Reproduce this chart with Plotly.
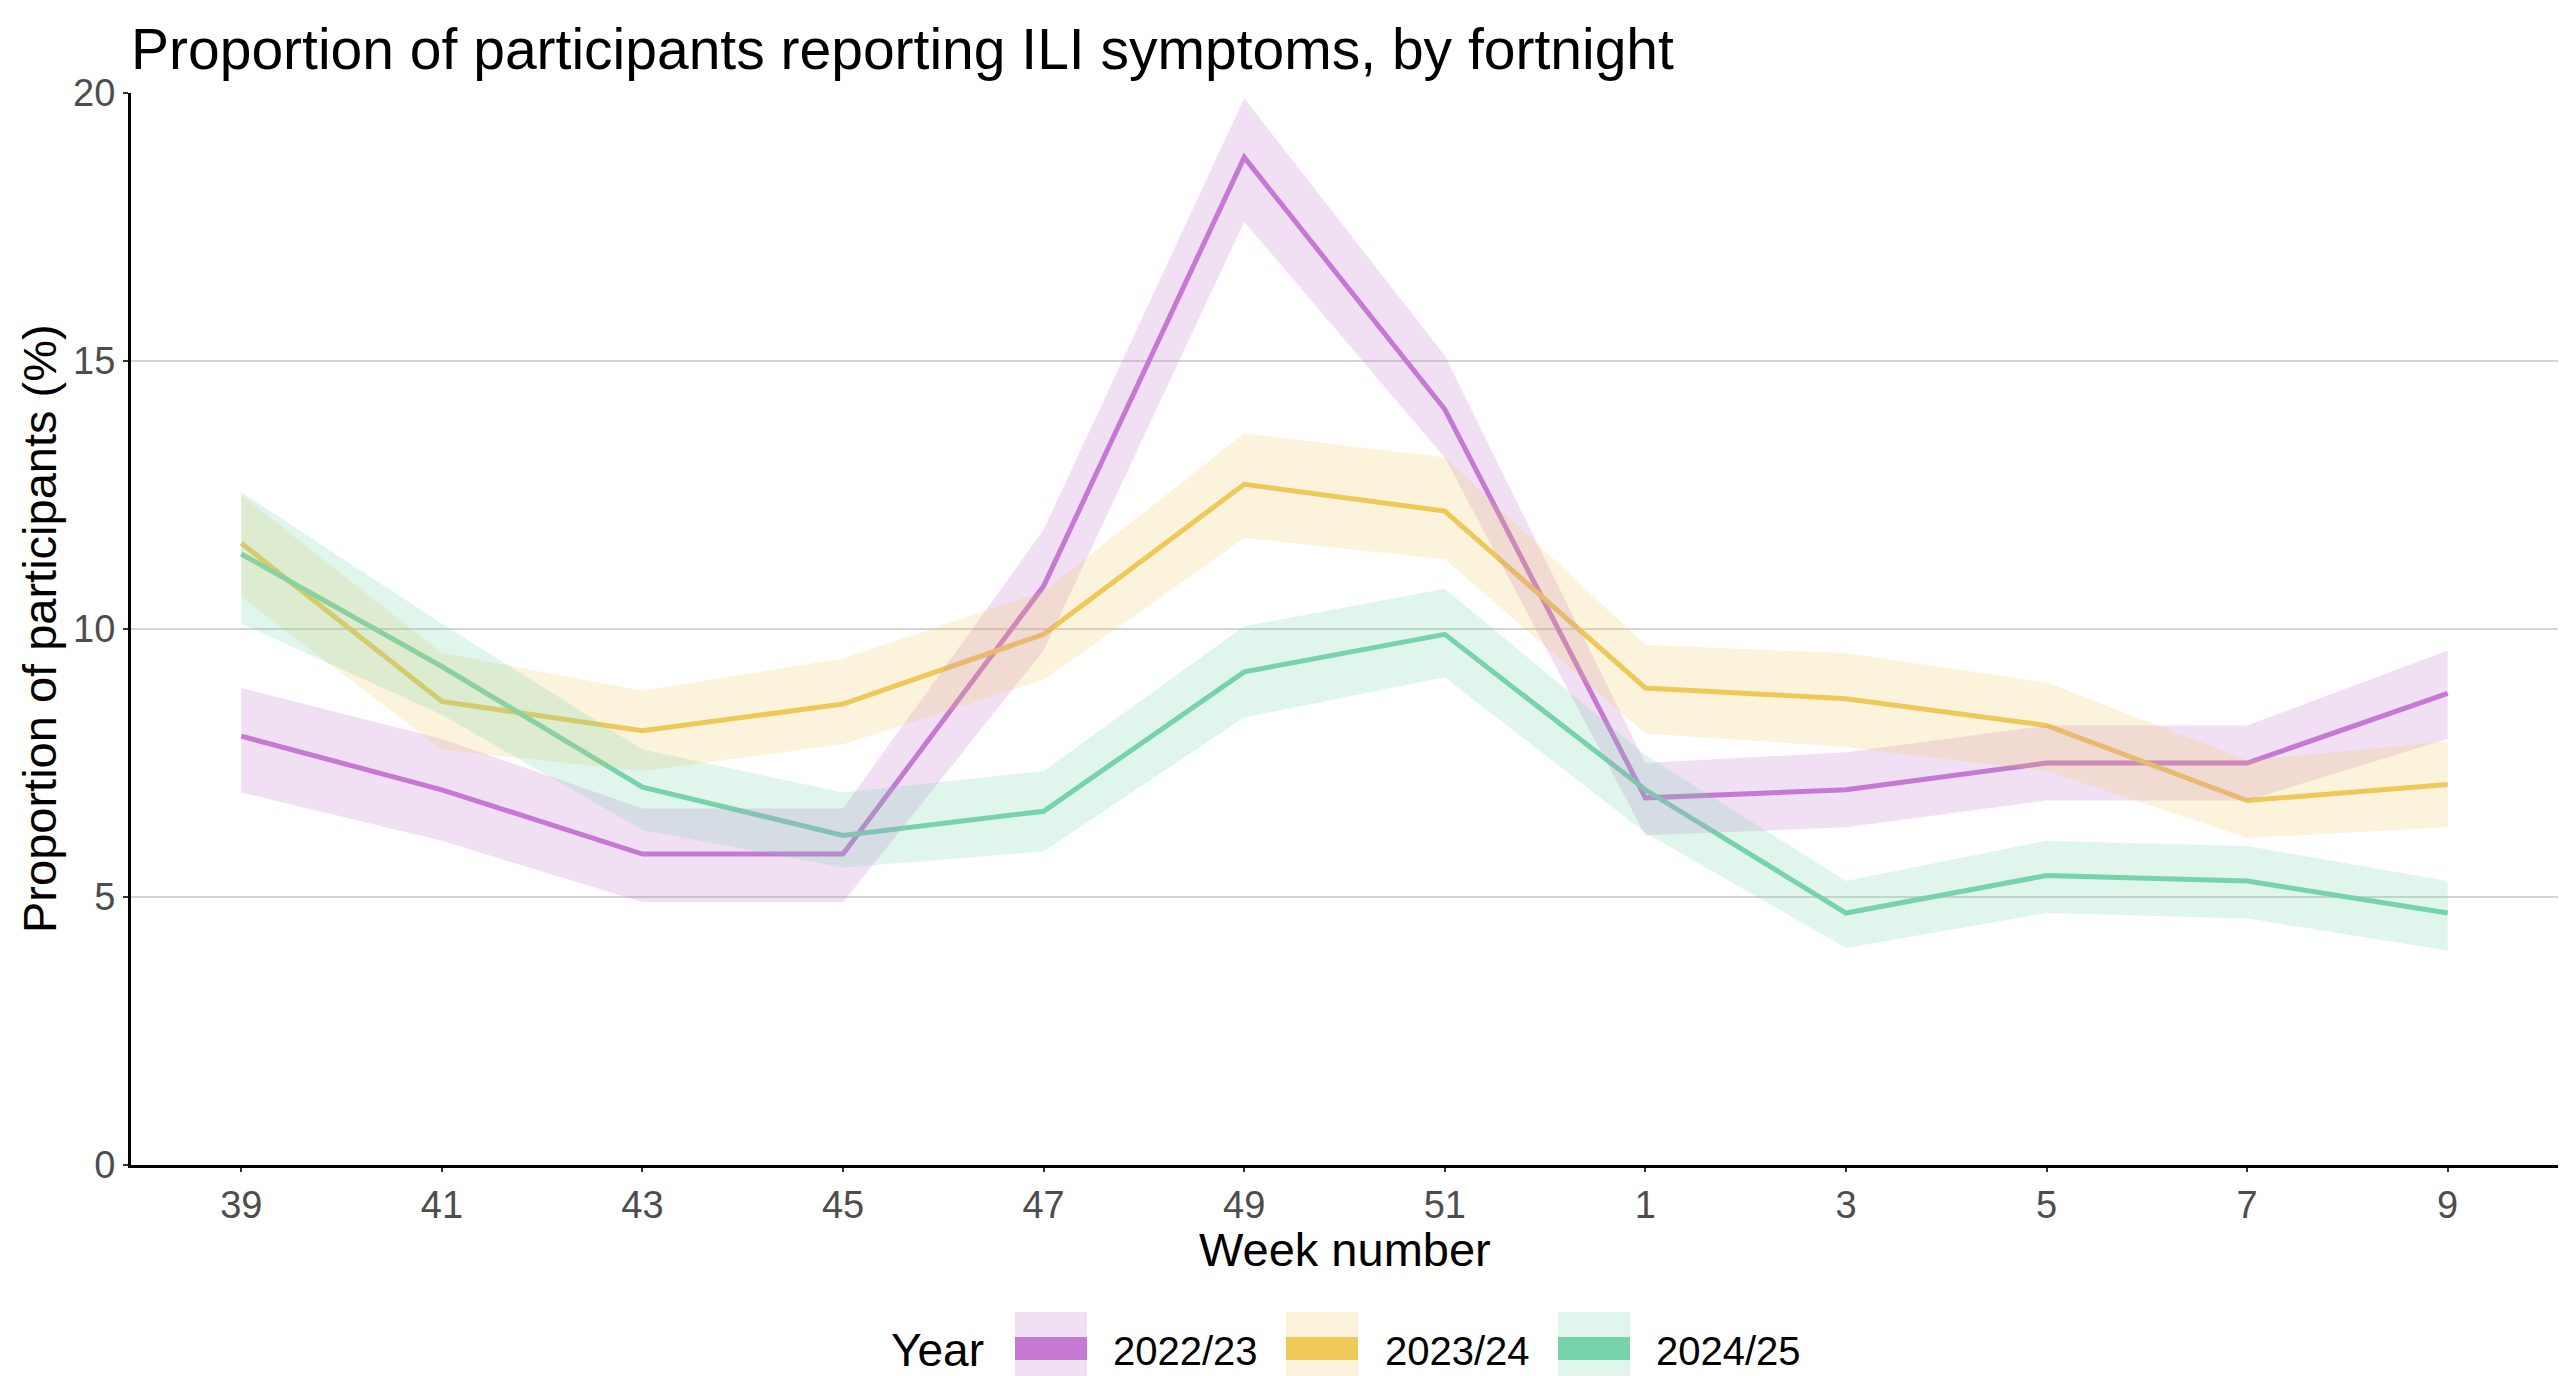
import plotly.graph_objects as go

# ---------------- data ----------------
weeks = ["39", "41", "43", "45", "47", "49", "51", "1", "3", "5", "7", "9"]
years = ["2022/23", "2023/24", "2024/25"]

mid_2223 = [8.0, 7.0, 5.8, 5.8, 10.8, 18.8, 14.1, 6.85, 7.0, 7.5, 7.5, 8.8]
lo_2223 = [6.95, 6.05, 4.9, 4.9, 9.6, 17.6, 13.2, 6.15, 6.3, 6.8, 6.8, 7.95]
hi_2223 = [8.9, 7.95, 6.65, 6.65, 11.85, 19.9, 15.1, 7.5, 7.7, 8.2, 8.2, 9.6]

mid_2324 = [11.6, 8.65, 8.1, 8.6, 9.9, 12.7, 12.2, 8.9, 8.7, 8.2, 6.8, 7.1]
lo_2324 = [10.6, 7.75, 7.35, 7.85, 9.05, 11.7, 11.3, 8.05, 7.8, 7.35, 6.1, 6.3]
hi_2324 = [12.5, 9.55, 8.85, 9.45, 10.7, 13.65, 13.2, 9.7, 9.55, 9.0, 7.55, 7.9]

mid_2425 = [11.4, 9.3, 7.05, 6.15, 6.6, 9.2, 9.9, 7.0, 4.7, 5.4, 5.3, 4.7]
lo_2425 = [10.1, 8.4, 6.25, 5.55, 5.85, 8.35, 9.1, 6.2, 4.05, 4.7, 4.6, 4.0]
hi_2425 = [12.55, 10.1, 7.75, 6.95, 7.35, 10.05, 10.75, 7.65, 5.3, 6.05, 5.95, 5.3]

y_ticks = [0, 5, 10, 15, 20]

# ---------------- styling ----------------
colors = ["#C679D3", "#EFC95A", "#77D3AB"]
fills = ["rgba(198,121,211,0.24)", "rgba(239,201,90,0.22)", "rgba(119,211,171,0.23)"]
FONT = "Liberation Sans, Arial, Helvetica, sans-serif"

W, H = 2566, 1376
L, R, T, B = 131, 2558, 93, 1165


def px_x(px):
    return (px - L) / (R - L)


def px_y(py):
    return (B - py) / (B - T)


mids = [mid_2223, mid_2324, mid_2425]
los = [lo_2223, lo_2324, lo_2425]
his = [hi_2223, hi_2324, hi_2425]

xs = list(range(len(weeks)))

fig = go.Figure()

# lines first, ribbons drawn on top (as in reference)
for i, yr in enumerate(years):
    fig.add_trace(go.Scatter(
        x=xs, y=mids[i], mode="lines", name=yr,
        line=dict(color=colors[i], width=5), showlegend=False,
    ))
for i, yr in enumerate(years):
    fig.add_trace(go.Scatter(
        x=xs + xs[::-1], y=his[i] + los[i][::-1], mode="lines",
        fill="toself", fillcolor=fills[i], line=dict(width=0, color=fills[i]),
        showlegend=False, hoverinfo="skip",
    ))

annotations = [
    dict(text="Proportion of participants (%)", x=px_x(39), y=0.5, xref="paper", yref="paper",
         textangle=-90, showarrow=False, xanchor="center", yanchor="middle",
         font=dict(size=47, color="black", family=FONT)),
    dict(text="Week number", x=0.5, y=px_y(1249), xref="paper", yref="paper",
         showarrow=False, xanchor="center", yanchor="middle",
         font=dict(size=47, color="black", family=FONT)),
    dict(text="Year", x=px_x(889), y=px_y(1350), xref="paper", yref="paper",
         showarrow=False, xanchor="left", yanchor="middle",
         font=dict(size=46, color="black", family=FONT)),
]

shapes = []
key_left = [1015, 1286, 1558]
label_left = [1111, 1383, 1654]
for i, yr in enumerate(years):
    shapes.append(dict(type="rect", xref="paper", yref="paper",
                       x0=px_x(key_left[i]), x1=px_x(key_left[i] + 72),
                       y0=px_y(1386), y1=px_y(1312),
                       fillcolor=fills[i], line=dict(width=0)))
    shapes.append(dict(type="rect", xref="paper", yref="paper",
                       x0=px_x(key_left[i]), x1=px_x(key_left[i] + 72),
                       y0=px_y(1360), y1=px_y(1337),
                       fillcolor=colors[i], line=dict(width=0)))
    annotations.append(dict(text=yr, x=px_x(label_left[i]), y=px_y(1351), xref="paper", yref="paper",
                            showarrow=False, xanchor="left", yanchor="middle",
                            font=dict(size=40, color="black", family=FONT)))

fig.update_layout(
    width=W, height=H,
    margin=dict(l=L, r=W - R, t=T, b=H - B, pad=0),
    paper_bgcolor="white", plot_bgcolor="white",
    font=dict(family=FONT, color="black"),
    title=dict(text="Proportion of participants reporting ILI symptoms, by fortnight",
               x=0, xref="paper", xanchor="left", y=1 - 49 / H, yref="container", yanchor="middle",
               font=dict(size=57, color="black", family=FONT)),
    showlegend=False,
    annotations=annotations,
    shapes=shapes,
)

fig.update_xaxes(
    range=[-0.55, len(weeks) - 1 + 0.55],
    tickmode="array", tickvals=xs, ticktext=weeks,
    showgrid=False, zeroline=False,
    showline=True, linecolor="black", linewidth=3,
    ticks="outside", ticklen=4, tickwidth=2, tickcolor="#333333",
    tickfont=dict(size=38, color="#4D4D4D", family=FONT),
)
fig.update_yaxes(
    range=[0, 20],
    tickmode="array", tickvals=y_ticks, ticktext=[str(v) for v in y_ticks],
    showgrid=True, gridcolor="#D4D4D4", gridwidth=2, zeroline=False,
    showline=True, linecolor="black", linewidth=3,
    ticks="outside", ticklen=5, tickwidth=2, tickcolor="#333333",
    tickfont=dict(size=38, color="#4D4D4D", family=FONT),
)

fig.write_html("out.html", config={"displayModeBar": False},
               post_script="document.body.style.margin='0';")
